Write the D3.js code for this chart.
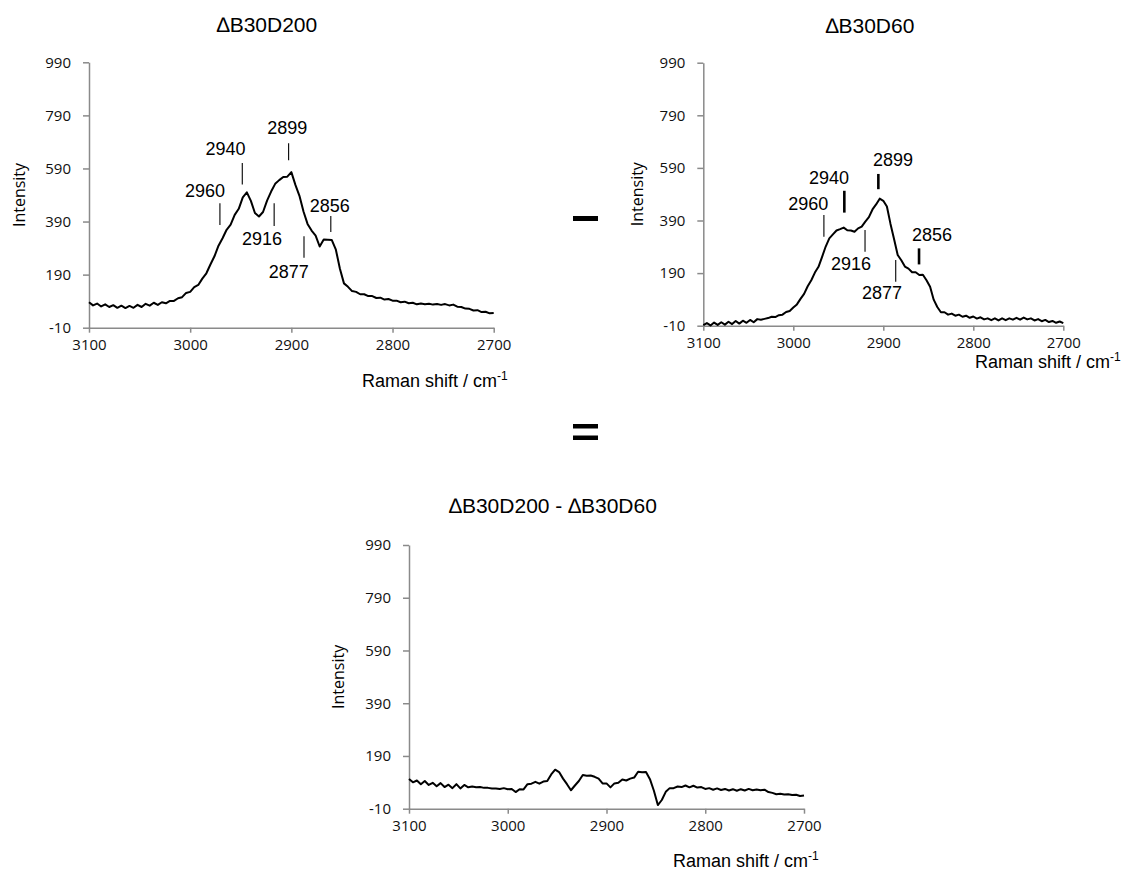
<!DOCTYPE html>
<html>
<head>
<meta charset="utf-8">
<script src="https://cdn.jsdelivr.net/npm/d3@7"></script>
<style>
  body { margin: 0; background: #fff; }
  .tick text { font-family: "Open Sans", sans-serif; font-size: 15px; fill: #111; }
  .axis path, .axis line { stroke: #8a8a8a; stroke-width: 1.5px; }
</style>
</head>
<body>
<svg id="chart" width="1126" height="871"></svg>
<script>
// Raman shift grid (cm-1), one sample every 4 cm-1
const shift = d3.range(3100, 2699, -4);

// spectra
const specD200 = [
  86, 74, 81, 70, 78, 68, 75, 65, 73, 64,
  72, 65, 76, 68, 80, 73, 84, 76, 86, 82,
  91, 91, 101, 105, 121, 125, 143, 151, 175, 195,
  228, 259, 299, 327, 359, 378, 415, 438, 481, 500,
  468, 422, 409, 426, 469, 503, 532, 546, 558, 559,
  576, 528, 487, 428, 381, 356, 337, 296, 322, 321,
  320, 284, 212, 157, 144, 128, 125, 116, 116, 109,
  109, 102, 103, 96, 98, 92, 92, 86, 88, 82,
  84, 78, 81, 78, 80, 77, 79, 76, 79, 74,
  77, 69, 68, 62, 61, 55, 56, 49, 50, 44,
  45
];
const specD60 = [
  -8, 0, -9, 2, -7, 3, -6, 5, -4, 8,
  -2, 9, 1, 12, 3, 15, 13, 16, 19, 24,
  23, 30, 32, 42, 46, 59, 71, 92, 111, 140,
  163, 192, 214, 252, 291, 322, 337, 352, 357, 363,
  353, 352, 347, 360, 367, 386, 403, 432, 451, 473,
  465, 443, 377, 319, 259, 239, 215, 207, 193, 193,
  183, 184, 163, 138, 89, 61, 41, 41, 32, 36,
  28, 32, 24, 28, 20, 25, 17, 22, 14, 18,
  11, 18, 10, 18, 11, 18, 13, 20, 13, 21,
  14, 18, 10, 15, 7, 12, 4, 8, 1, 6,
  0
];
const specDiff = [
  103, 90, 97, 83, 95, 80, 88, 75, 87, 72,
  81, 68, 83, 67, 80, 71, 74, 71, 72, 69,
  69, 67, 67, 65, 68, 64, 65, 53, 64, 63,
  83, 85, 92, 85, 93, 95, 120, 138, 129, 104,
  83, 60, 78, 95, 118, 115, 116, 111, 104, 86,
  86, 71, 86, 88, 101, 97, 104, 108, 130, 128,
  129, 102, 58, 4, 23, 54, 68, 68, 74, 72,
  78, 71, 77, 70, 72, 65, 68, 62, 67, 61,
  65, 59, 64, 58, 64, 59, 65, 60, 63, 60,
  62, 53, 50, 45, 47, 44, 45, 42, 43, 38,
  40
];

const xTicks = [3100, 3000, 2900, 2800, 2700];
const yTicks = [-10, 190, 390, 590, 790, 990];

// peak marks: x of the mark, its y span, label anchor (data units)
const peaksD200 = [
  { label: '2960', x: 2970.6, y0: 377, y1: 459, lx: 2985.4, ly: 483 },
  { label: '2940', x: 2948.5, y0: 530, y1: 611, lx: 2965, ly: 640 },
  { label: '2899', x: 2902.7, y0: 621, y1: 685, lx: 2904, ly: 719 },
  { label: '2916', x: 2917, y0: 373, y1: 459, lx: 2929, ly: 301 },
  { label: '2877', x: 2887.5, y0: 254, y1: 335, lx: 2902.6, ly: 177 },
  { label: '2856', x: 2861, y0: 351, y1: 411, lx: 2862, ly: 426 }
];
const peaksD60 = [
  { label: '2960', x: 2966, y0: 328, y1: 411, lx: 2983.3, ly: 430 },
  { label: '2940', x: 2943.3, y0: 420, y1: 503, lx: 2960.3, ly: 528 },
  { label: '2899', x: 2905.5, y0: 509, y1: 567, lx: 2889.2, ly: 597 },
  { label: '2916', x: 2920.3, y0: 271, y1: 354, lx: 2935.9, ly: 202 },
  { label: '2877', x: 2886.2, y0: 157, y1: 240, lx: 2901.4, ly: 91 },
  { label: '2856', x: 2860.3, y0: 223, y1: 284, lx: 2845.9, ly: 313 }
];

const panels = [
  { title: '\u2206B30D200', values: specD200, peaks: peaksD200, thick: [],
    left: 89, right: 493.7, top: 62.3, bottom: 327.7,
    titleX: 267, titleY: 32, yLabelX: 25, xLabelX: 362, xLabelY: 387 },
  { title: '\u2206B30D60', values: specD60, peaks: peaksD60, thick: ['2940', '2899', '2856'],
    left: 703.3, right: 1063.3, top: 62.7, bottom: 325.7,
    titleX: 870, titleY: 33, yLabelX: 643, xLabelX: 975, xLabelY: 368 },
  { title: '\u2206B30D200 - \u2206B30D60', values: specDiff, peaks: [], thick: [],
    left: 409, right: 804, top: 545, bottom: 808.7,
    titleX: 553, titleY: 513, yLabelX: 344, xLabelX: 673, xLabelY: 867 }
];

const svg = d3.select('#chart');
const arial = '"Liberation Sans", Arial, sans-serif';

panels.forEach(p => {
  const x = d3.scaleLinear().domain([3100, 2700]).range([p.left, p.right]);
  const y = d3.scaleLinear().domain([-10, 990]).range([p.bottom, p.top]);
  const g = svg.append('g');

  g.append('g')
    .attr('class', 'axis')
    .attr('transform', `translate(0,${p.bottom})`)
    .call(d3.axisBottom(x).tickValues(xTicks).tickSize(5).tickSizeOuter(0).tickPadding(7).tickFormat(d => String(d)));

  g.append('g')
    .attr('class', 'axis')
    .attr('transform', `translate(${p.left},0)`)
    .call(d3.axisLeft(y).tickValues(yTicks).tickSize(6).tickSizeOuter(0).tickPadding(12).tickFormat(d => String(d)));

  const line = d3.line()
    .x((d, i) => x(shift[i]))
    .y(d => y(d));

  g.append('path')
    .datum(p.values)
    .attr('d', line)
    .attr('fill', 'none')
    .attr('stroke', '#000')
    .attr('stroke-width', 2)
    .attr('stroke-linejoin', 'round');

  // peak marks
  g.selectAll('.mark')
    .data(p.peaks)
    .join('line')
    .attr('x1', d => x(d.x)).attr('x2', d => x(d.x))
    .attr('y1', d => y(d.y0)).attr('y2', d => y(d.y1))
    .attr('stroke', '#000')
    .attr('stroke-width', d => p.thick.includes(d.label) ? 2.6 : 1.1);

  g.selectAll('.peak')
    .data(p.peaks)
    .join('text')
    .attr('x', d => x(d.lx))
    .attr('y', d => y(d.ly))
    .attr('text-anchor', 'middle')
    .style('font-family', arial)
    .style('font-size', '18px')
    .text(d => d.label);

  g.append('text')
    .attr('x', p.titleX).attr('y', p.titleY)
    .attr('text-anchor', 'middle')
    .style('font-family', arial)
    .style('font-size', '21px')
    .text(p.title);

  g.append('text')
    .attr('transform', `translate(${p.yLabelX},${(p.top + p.bottom) / 2}) rotate(-90)`)
    .attr('text-anchor', 'middle')
    .style('font-family', '"Open Sans", sans-serif')
    .style('font-size', '16px')
    .text('Intensity');

  const xl = g.append('text')
    .attr('x', p.xLabelX).attr('y', p.xLabelY)
    .style('font-family', arial)
    .style('font-size', '18px')
    .text('Raman shift / cm');
  xl.append('tspan')
    .attr('dy', -7)
    .style('font-size', '12px')
    .text('-1');
});

// operator signs between the panels
svg.append('rect').attr('x', 573).attr('y', 216).attr('width', 25).attr('height', 5).attr('fill', '#000');
svg.append('rect').attr('x', 573).attr('y', 424).attr('width', 25).attr('height', 4.5).attr('fill', '#000');
svg.append('rect').attr('x', 573).attr('y', 435.5).attr('width', 25).attr('height', 4.5).attr('fill', '#000');
</script>
</body>
</html>
